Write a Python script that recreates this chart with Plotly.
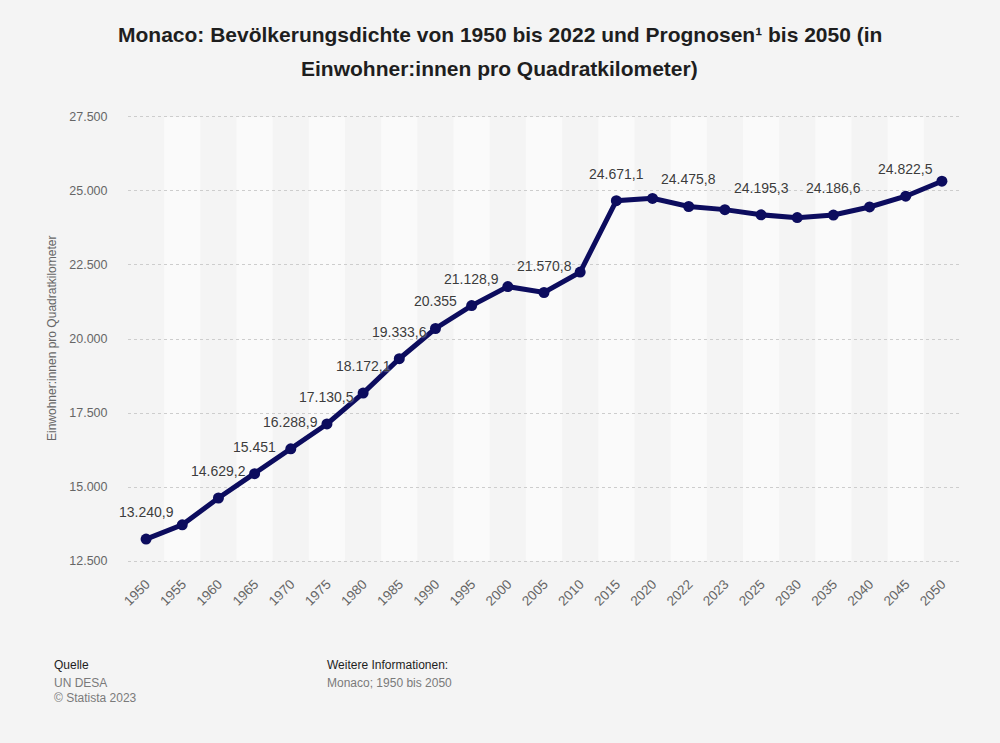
import plotly.graph_objects as go

years = ["1950", "1955", "1960", "1965", "1970", "1975", "1980", "1985", "1990",
         "1995", "2000", "2005", "2010", "2015", "2020", "2022", "2023", "2025",
         "2030", "2035", "2040", "2045", "2050"]
density = [13240.9, 13725, 14629.2, 15451, 16288.9, 17130.5, 18172.1, 19333.6,
           20355, 21128.9, 21770, 21570.8, 22260, 24671.1, 24750, 24475.8,
           24370, 24195.3, 24100, 24186.6, 24460, 24822.5, 25330]
show_label = [1, 0, 1, 1, 1, 1, 1, 1, 1, 1, 0, 1, 0, 1, 0, 1, 0, 1, 0, 1, 0, 1, 0]
y_ticks = [12500, 15000, 17500, 20000, 22500, 25000, 27500]

title_l1 = "Monaco: Bevölkerungsdichte von 1950 bis 2022 und Prognosen¹ bis 2050 (in"
title_l2 = "Einwohner:innen pro Quadratkilometer)"
y_title = "Einwohner:innen pro Quadratkilometer"


def fmt_de(v):
    if float(v).is_integer():
        s = f"{int(v):,}"
        return s.replace(",", ".")
    s = f"{v:,.1f}"
    return s.replace(",", "X").replace(".", ",").replace("X", ".")


FONT = "Liberation Sans, Arial, Helvetica, sans-serif"
LINE = "#0c0c5e"

fig = go.Figure()
fig.add_trace(go.Scatter(
    x=years, y=density, mode="lines+markers",
    line=dict(color=LINE, width=5),
    marker=dict(color=LINE, size=11),
    hoverinfo="x+y", showlegend=False,
))

shapes = []
for i in range(len(years)):
    if i % 2 == 1:
        shapes.append(dict(type="rect", xref="x", yref="y",
                           x0=i - 0.5, x1=i + 0.5, y0=y_ticks[0], y1=y_ticks[-1],
                           fillcolor="#fafafa", line=dict(width=0), layer="below"))

annotations = []
for i, (yr, v, s) in enumerate(zip(years, density, show_label)):
    if s:
        annotations.append(dict(
            x=i, y=v, xref="x", yref="y", text=fmt_de(v), showarrow=False,
            yshift=27, xanchor="center", yanchor="middle",
            font=dict(family=FONT, size=14, color="#3c3c3c",
                      shadow="0px 0px 2px #ffffff"),
        ))

# Titles
annotations.append(dict(text=f"<b>{title_l1}</b>", xref="paper", yref="paper",
                        x=0.4471, y=1.1756, xanchor="center", yanchor="middle",
                        showarrow=False, font=dict(family=FONT, size=21, color="#1e1e1e")))
annotations.append(dict(text=f"<b>{title_l2}</b>", xref="paper", yref="paper",
                        x=0.4471, y=1.1022, xanchor="center", yanchor="middle",
                        showarrow=False, font=dict(family=FONT, size=21, color="#1e1e1e")))
# Y title
annotations.append(dict(text=y_title, xref="paper", yref="paper", x=-0.0913, y=0.5,
                        textangle=-90, xanchor="center", yanchor="middle",
                        showarrow=False, font=dict(family=FONT, size=12, color="#666666")))
# Footer
foot = [
    ("Quelle", -0.0913, -0.2244, "#1e1e1e"),
    ("UN DESA", -0.0913, -0.2644, "#7a7a7a"),
    ("© Statista 2023", -0.0913, -0.2978, "#7a7a7a"),
    ("Weitere Informationen:", 0.2368, -0.2244, "#1e1e1e"),
    ("Monaco; 1950 bis 2050", 0.2368, -0.2644, "#7a7a7a"),
]
for t, x, y, c in foot:
    annotations.append(dict(text=t, xref="paper", yref="paper", x=x, y=y,
                            xanchor="left", yanchor="middle", showarrow=False,
                            font=dict(family=FONT, size=12, color=c)))

fig.update_layout(
    width=1000, height=743,
    margin=dict(l=128, r=40, t=114, b=179, pad=0),
    paper_bgcolor="#f4f4f4", plot_bgcolor="#f4f4f4",
    separators=",.",
    shapes=shapes, annotations=annotations,
    font=dict(family=FONT),
    xaxis=dict(type="category", tickangle=-45, showgrid=False, zeroline=False,
               range=[-0.5, len(years) - 0.5],
               tickfont=dict(family=FONT, size=13.5, color="#666666"),
               ticks="outside", ticklen=6, tickcolor="rgba(0,0,0,0)", showline=False),
    yaxis=dict(range=[12400, 27600], tickvals=y_ticks, tickformat=",d",
               showgrid=True, gridcolor="#cdcdcd", griddash="dot", gridwidth=1,
               zeroline=False, showline=False,
               tickfont=dict(family=FONT, size=12.5, color="#666666"),
               ticks="outside", ticklen=17, tickcolor="rgba(0,0,0,0)"),
)

fig.write_html("out.html", config={"displayModeBar": False},
               post_script="document.body.style.margin='0';"
                           "document.body.style.background='#f4f4f4';")
